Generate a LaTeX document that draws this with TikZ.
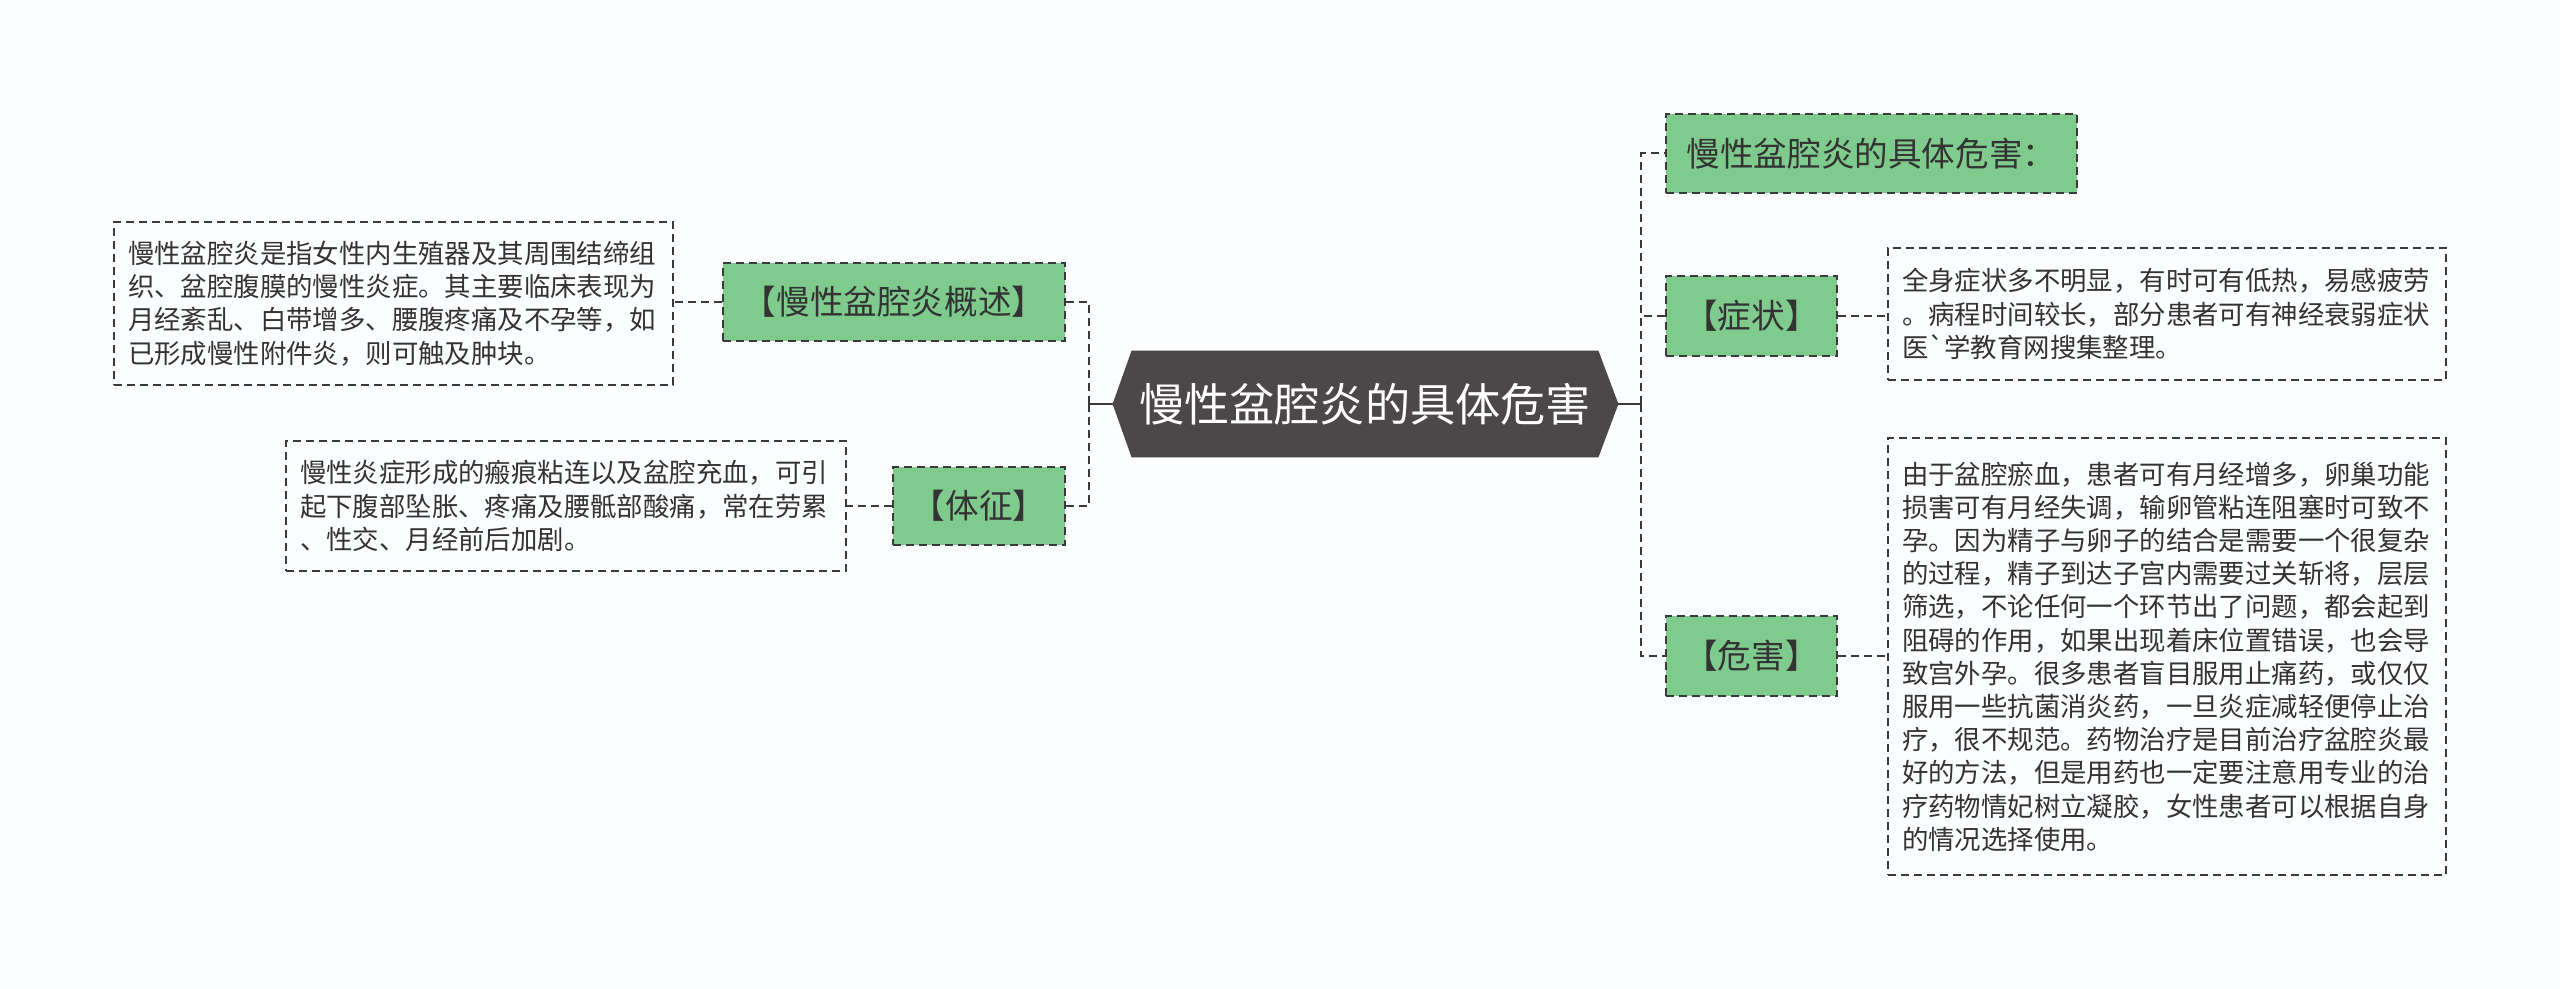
\documentclass[tikz,border=0pt]{standalone}
\usepackage{fontspec}
\setmainfont{Noto Sans CJK SC}
\usetikzlibrary{calc}
\pgfdeclarelayer{bg}
\pgfsetlayers{bg,main}
\definecolor{bgc}{HTML}{FBFDFE}
\definecolor{txt}{HTML}{333333}
\definecolor{lin}{HTML}{3A3A3A}
\definecolor{grn}{HTML}{7FCB8E}
\definecolor{hexc}{HTML}{4C4748}
\tikzset{
  dconn/.style={draw=lin, line width=1pt, dash pattern=on 4pt off 2.5pt},
  sconn/.style={draw=lin, line width=1pt},
  greenbox/.style={draw=lin, fill=grn, line width=1pt, dash pattern=on 4pt off 2.5pt,
    text=txt, font=\fontsize{16.8pt}{20pt}\selectfont, inner sep=0pt, align=center},
  textbox/.style={draw=lin, fill=bgc, line width=0.7pt, dash pattern=on 4pt off 2.5pt,
    text=txt, font=\fontsize{13.2pt}{16.6pt}\selectfont, inner xsep=7pt, inner ysep=0pt, align=left},
  roottext/.style={text=white, font=\fontsize{22.6pt}{26pt}\selectfont, inner sep=0pt,
    minimum width=233pt, minimum height=53pt}
}
\begin{document}
\begin{tikzpicture}[x=0.5pt, y=-0.5pt]
\useasboundingbox (0,0) rectangle (2560,989);

% root
\node[roottext] (root) at (1365,404) {慢性盆腔炎的具体危害};
\begin{pgfonlayer}{bg}
\fill[bgc] (0,0) rectangle (2560,989);
\fill[hexc] (root.north west) -- (root.north east) -- ($(root.east)+(20,0)$) -- (root.south east)
  -- (root.south west) -- ($(root.west)+(-19,0)$) -- cycle;
\end{pgfonlayer}
\coordinate (ltip) at ($(root.west)+(-19,0)$);
\coordinate (rtip) at ($(root.east)+(20,0)$);

% left
\node[greenbox, minimum width=171pt, minimum height=39pt] (gaishu) at (894,302) {【慢性盆腔炎概述】};
\node[greenbox, minimum width=86pt, minimum height=39pt] (tizheng) at (979,506) {【体征】};
\node[textbox, text width=265.5pt, minimum height=81.5pt] (gaishutext) at (393.5,303.5)
 {慢性盆腔炎是指女性内生殖器及其周围结缔组\\
  织、盆腔腹膜的慢性炎症。其主要临床表现为\\
  月经紊乱、白带增多、腰腹疼痛及不孕等，如\\
  已形成慢性附件炎，则可触及肿块。};
\node[textbox, text width=266pt, minimum height=65pt] (tizhengtext) at (566,506)
 {慢性炎症形成的瘢痕粘连以及盆腔充血，可引\\
  起下腹部坠胀、疼痛及腰骶部酸痛，常在劳累\\
  、性交、月经前后加剧。};

% right
\node[greenbox, minimum width=205.5pt, minimum height=39.5pt] (jutiweihai) at (1871.5,153.5) {慢性盆腔炎的具体危害：};
\node[greenbox, minimum width=85.5pt, minimum height=40pt] (zhengzhuang) at (1751.5,316) {【症状】};
\node[greenbox, minimum width=85.5pt, minimum height=40pt] (weihai) at (1751.5,656) {【危害】};
\node[textbox, text width=265pt, minimum height=66pt] (zhengzhuangtext) at (2167,314)
 {全身症状多不明显，有时可有低热，易感疲劳\\
  。病程时间较长，部分患者可有神经衰弱症状\\
  医{\addfontfeatures{Ligatures=TeXOff}\symbol{96}}学教育网搜集整理。};
\node[textbox, text width=265pt, minimum height=218.5pt] (weihaitext) at (2167,656.5)
 {由于盆腔瘀血，患者可有月经增多，卵巢功能\\
  损害可有月经失调，输卵管粘连阻塞时可致不\\
  孕。因为精子与卵子的结合是需要一个很复杂\\
  的过程，精子到达子宫内需要过关斩将，层层\\
  筛选，不论任何一个环节出了问题，都会起到\\
  阻碍的作用，如果出现着床位置错误，也会导\\
  致宫外孕。很多患者盲目服用止痛药，或仅仅\\
  服用一些抗菌消炎药，一旦炎症减轻便停止治\\
  疗，很不规范。药物治疗是目前治疗盆腔炎最\\
  好的方法，但是用药也一定要注意用专业的治\\
  疗药物情妃树立凝胶，女性患者可以根据自身\\
  的情况选择使用。};

% connectors
\draw[sconn] (ltip) -- ++(-24,0) coordinate (lbus);
\draw[dconn] (lbus) |- (gaishu.east);
\draw[dconn] (lbus) |- (tizheng.east);
\draw[sconn] (rtip) -- ++(23,0) coordinate (rbus);
\draw[dconn] (rbus) |- (jutiweihai.west);
\draw[dconn] (rbus) |- (zhengzhuang.west);
\draw[dconn] (rbus) |- (weihai.west);
\draw[dconn] (gaishu.west) -- (gaishutext.east |- gaishu.west);
\draw[dconn] (tizheng.west) -- (tizhengtext.east |- tizheng.west);
\draw[dconn] (zhengzhuang.east) -- (zhengzhuangtext.west |- zhengzhuang.east);
\draw[dconn] (weihai.east) -- (weihaitext.west |- weihai.east);
\end{tikzpicture}
\end{document}
